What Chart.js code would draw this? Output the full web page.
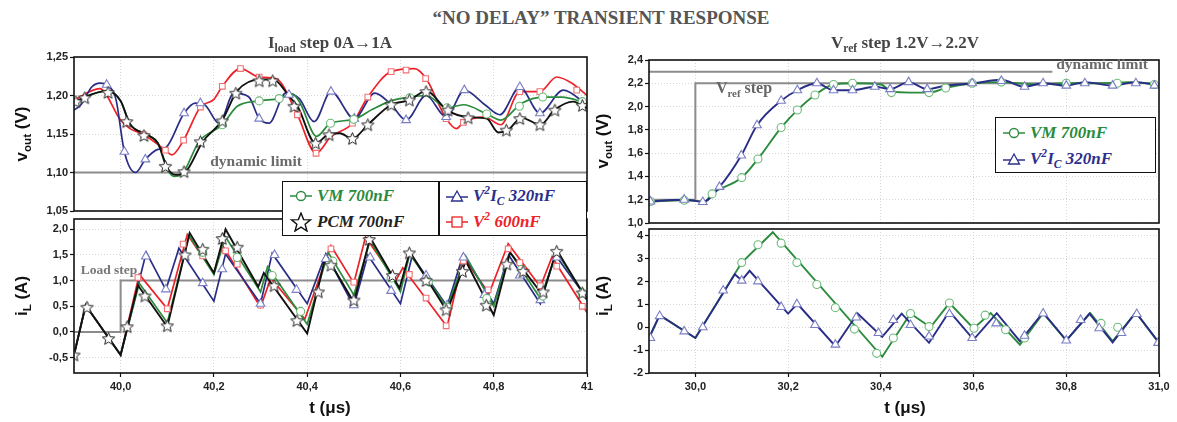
<!DOCTYPE html>
<html>
<head>
<meta charset="utf-8">
<script src="https://cdn.jsdelivr.net/npm/chart.js@4.4.1/dist/chart.umd.min.js"></script>
<style>
  body { margin: 0; background: #fff; }
  #wrap { position: relative; width: 1177px; height: 422px; overflow: hidden; font-family: "Liberation Sans", Arial, sans-serif; }
  canvas { position: absolute; }
  .t { position: absolute; white-space: nowrap; transform: translate(-50%, -50%); z-index: 5; }
  .serif { font-family: "Liberation Serif", "Times New Roman", serif; font-weight: bold; }
  .ax { font-weight: bold; font-size: 17px; color: #111; }
  .rot { transform: translate(-50%, -50%) rotate(-90deg); }
  sub, sup { font-size: 0.68em; line-height: 0; }
  .legend { position: absolute; background: #fff; border: 1.5px solid #111; z-index: 6; box-sizing: border-box; }
  .legend .cell { position: absolute; height: 26px; display: flex; align-items: center; font-family: "Liberation Serif", "Times New Roman", serif; font-weight: bold; font-style: italic; font-size: 17px; white-space: nowrap; }
  .legend svg { margin-right: 4px; flex: none; }
</style>
</head>
<body>
<div id="wrap">
  <canvas id="lt" width="600" height="190" style="left:0px;top:35px"></canvas>
  <canvas id="lb" width="600" height="222" style="left:0px;top:200px"></canvas>
  <canvas id="rt" width="587" height="200" style="left:590px;top:35px"></canvas>
  <canvas id="rb" width="587" height="212" style="left:590px;top:210px"></canvas>

  <div class="t serif" style="left:601px;top:18px;font-size:19px;color:#555">“NO DELAY” TRANSIENT RESPONSE</div>
  <div class="t serif" style="left:330px;top:43px;font-size:17px;color:#444">I<sub>load</sub> step 0A→1A</div>
  <div class="t serif" style="left:905px;top:43px;font-size:17px;color:#444">V<sub>ref</sub> step 1.2V→2.2V</div>

  <div class="t serif" style="left:256px;top:161px;font-size:15.5px;color:#6b6b6b">dynamic limit</div>
  <div class="t serif" style="left:1102px;top:64px;font-size:15.5px;color:#6b6b6b">dynamic limit</div>
  <div class="t serif" style="left:744px;top:88px;font-size:16px;color:#666">V<sub>ref</sub> step</div>
  <div class="t serif" style="left:109px;top:270px;font-size:13.5px;color:#777">Load step</div>

  <div class="t ax rot" style="left:22px;top:134px">v<sub>out</sub> (V)</div>
  <div class="t ax rot" style="left:22px;top:296px">i<sub>L</sub> (A)</div>
  <div class="t ax rot" style="left:603px;top:141px">v<sub>out</sub> (V)</div>
  <div class="t ax rot" style="left:603px;top:296px">i<sub>L</sub> (A)</div>
  <div class="t ax" style="left:330px;top:408px">t (μs)</div>
  <div class="t ax" style="left:905px;top:408px">t (μs)</div>

  <div class="legend" style="left:282px;top:181px;width:305px;height:55px">
    <div style="position:absolute;left:155px;top:0;width:1.5px;height:100%;background:#111"></div>
    <div class="cell" style="left:6px;top:1px;color:#2b8b3c">
      <svg width="24" height="14"><line x1="1" y1="7" x2="23" y2="7" stroke="#2b8b3c" stroke-width="1.5"/><circle cx="12" cy="7" r="4.5" fill="#fff" stroke="#2b8b3c" stroke-width="1.3"/></svg><span>VM 700nF</span></div>
    <div class="cell" style="left:162px;top:1px;color:#2c2f8c">
      <svg width="24" height="14"><line x1="1" y1="8" x2="23" y2="8" stroke="#2c2f8c" stroke-width="1.5"/><polygon points="12,2 17.5,12 6.5,12" fill="#fff" stroke="#2c2f8c" stroke-width="1.3"/></svg><span>V<sup>2</sup>I<sub>C</sub> 320nF</span></div>
    <div class="cell" style="left:6px;top:27px;color:#222">
      <svg width="24" height="20"><polygon points="12,1 14.6,7.6 21.5,7.9 16.1,12.2 18,19 12,15.1 6,19 7.9,12.2 2.5,7.9 9.4,7.6" fill="#fff" stroke="#111" stroke-width="1.4"/></svg><span>PCM 700nF</span></div>
    <div class="cell" style="left:162px;top:27px;color:#ec2228">
      <svg width="24" height="14"><line x1="1" y1="7" x2="23" y2="7" stroke="#ec2228" stroke-width="1.5"/><rect x="7" y="2" width="10" height="10" fill="#fff" stroke="#ec2228" stroke-width="1.3"/></svg><span>V<sup>2</sup> 600nF</span></div>
  </div>

  <div class="legend" style="left:995px;top:117px;width:161px;height:56px">
    <div class="cell" style="left:6px;top:2px;color:#2b8b3c">
      <svg width="24" height="14"><line x1="1" y1="7" x2="23" y2="7" stroke="#2b8b3c" stroke-width="1.5"/><circle cx="12" cy="7" r="4.5" fill="#fff" stroke="#2b8b3c" stroke-width="1.3"/></svg><span>VM 700nF</span></div>
    <div class="cell" style="left:6px;top:28px;color:#2c2f8c">
      <svg width="24" height="14"><line x1="1" y1="8" x2="23" y2="8" stroke="#2c2f8c" stroke-width="1.5"/><polygon points="12,2 17.5,12 6.5,12" fill="#fff" stroke="#2c2f8c" stroke-width="1.3"/></svg><span>V<sup>2</sup>I<sub>C</sub> 320nF</span></div>
  </div>
</div>

<script>
// ---- left: Iload step 0A -> 1A, output voltage (t in us, v in V)
const pcmVout = [[39.90,1.190],[39.92,1.197],[39.97,1.206],[40.00,1.193],[40.02,1.163],[40.057,1.149],[40.08,1.138],[40.10,1.106],[40.118,1.097],[40.138,1.100],[40.176,1.140],[40.218,1.168],[40.25,1.206],[40.30,1.221],[40.33,1.220],[40.36,1.200],[40.38,1.185],[40.418,1.138],[40.447,1.150],[40.47,1.151],[40.497,1.144],[40.53,1.162],[40.58,1.188],[40.62,1.194],[40.655,1.206],[40.70,1.181],[40.745,1.172],[40.785,1.170],[40.81,1.152],[40.83,1.155],[40.86,1.171],[40.90,1.162],[40.93,1.181],[40.97,1.192],[41.00,1.184]];
const pcmVoutMarks = [[39.904,1.192],[39.923,1.197],[39.973,1.204],[40.013,1.166],[40.05,1.148],[40.096,1.108],[40.136,1.101],[40.171,1.140],[40.218,1.167],[40.247,1.203],[40.297,1.219],[40.326,1.219],[40.372,1.186],[40.418,1.138],[40.447,1.149],[40.497,1.144],[40.530,1.162],[40.58,1.188],[40.619,1.194],[40.655,1.205],[40.702,1.181],[40.745,1.171],[40.827,1.155],[40.856,1.170],[40.899,1.162],[40.931,1.181],[40.99,1.187]];

const vmVout = [[39.90,1.190],[39.92,1.197],[39.97,1.206],[40.00,1.193],[40.02,1.163],[40.057,1.149],[40.08,1.138],[40.10,1.104],[40.115,1.095],[40.13,1.097],[40.168,1.140],[40.218,1.162],[40.25,1.186],[40.297,1.193],[40.34,1.196],[40.368,1.202],[40.385,1.190],[40.42,1.147],[40.45,1.164],[40.50,1.169],[40.54,1.182],[40.58,1.193],[40.62,1.198],[40.655,1.200],[40.70,1.184],[40.735,1.188],[40.785,1.176],[40.815,1.168],[40.86,1.190],[40.905,1.198],[40.946,1.198],[41.00,1.190]];
const vmVoutMarks = [[40.218,1.162],[40.297,1.193],[40.34,1.196],[40.45,1.164],[40.50,1.169],[40.62,1.197],[40.70,1.184],[40.785,1.176],[40.855,1.186],[40.905,1.198],[40.99,1.192]];

const v2icVout = [[39.90,1.181],[39.915,1.188],[39.938,1.211],[39.956,1.216],[39.975,1.212],[39.99,1.195],[40.008,1.127],[40.032,1.100],[40.053,1.117],[40.08,1.130],[40.096,1.132],[40.136,1.177],[40.16,1.190],[40.18,1.188],[40.211,1.164],[40.243,1.203],[40.275,1.198],[40.297,1.170],[40.318,1.164],[40.354,1.203],[40.383,1.196],[40.415,1.166],[40.451,1.205],[40.501,1.170],[40.545,1.203],[40.58,1.188],[40.612,1.168],[40.655,1.200],[40.698,1.172],[40.737,1.207],[40.781,1.188],[40.813,1.175],[40.856,1.211],[40.899,1.177],[40.949,1.207],[41.00,1.188]];
const v2icVoutMarks = [[39.97,1.214],[40.008,1.127],[40.053,1.117],[40.136,1.177],[40.171,1.190],[40.297,1.170],[40.361,1.201],[40.451,1.205],[40.501,1.170],[40.612,1.168],[40.698,1.172],[40.737,1.207],[40.856,1.211],[40.899,1.177],[40.99,1.190]];

const v2Vout = [[39.90,1.194],[39.955,1.209],[40.00,1.168],[40.02,1.157],[40.05,1.149],[40.096,1.129],[40.11,1.123],[40.135,1.142],[40.171,1.185],[40.20,1.195],[40.218,1.212],[40.257,1.235],[40.297,1.224],[40.333,1.222],[40.379,1.175],[40.419,1.125],[40.45,1.146],[40.497,1.164],[40.530,1.198],[40.58,1.231],[40.63,1.235],[40.655,1.222],[40.698,1.170],[40.72,1.157],[40.735,1.165],[40.78,1.172],[40.815,1.162],[40.856,1.205],[40.899,1.205],[40.935,1.224],[40.97,1.215],[41.00,1.200]];
const v2VoutMarks = [[40.05,1.149],[40.096,1.129],[40.135,1.142],[40.171,1.185],[40.218,1.212],[40.257,1.235],[40.297,1.224],[40.379,1.175],[40.419,1.125],[40.497,1.164],[40.530,1.198],[40.58,1.231],[40.612,1.233],[40.654,1.222],[40.698,1.170],[40.735,1.165],[40.856,1.205],[40.899,1.205],[40.978,1.207]];

// ---- left: inductor current (A)
const pcmIL = [[39.90,-0.45],[39.925,0.52],[40.00,-0.45],[40.037,0.91],[40.100,0.10],[40.148,1.93],[40.200,1.15],[40.225,2.00],[40.295,0.88],[40.307,1.15],[40.400,-0.03],[40.44,1.50],[40.50,0.58],[40.535,1.84],[40.598,0.85],[40.62,1.56],[40.70,0.40],[40.74,1.38],[40.80,0.33],[40.835,1.55],[40.905,0.72],[40.935,1.60],[41.00,0.62]];
const pcmILMarks = [[39.90,-0.45],[39.928,0.48],[39.974,-0.13],[40.014,0.10],[40.052,0.70],[40.10,0.12],[40.138,1.50],[40.176,1.61],[40.218,1.82],[40.25,1.65],[40.329,0.90],[40.378,0.22],[40.424,0.78],[40.451,1.30],[40.50,0.62],[40.533,1.80],[40.583,1.10],[40.619,1.54],[40.655,1.00],[40.698,0.43],[40.733,1.18],[40.784,0.52],[40.828,1.32],[40.863,1.18],[40.906,0.78],[40.935,1.57],[40.99,0.76]];

const vmIL = [[39.90,-0.45],[39.925,0.52],[40.00,-0.45],[40.04,0.95],[40.10,0.18],[40.147,1.88],[40.20,1.12],[40.225,1.85],[40.30,0.78],[40.315,1.27],[40.40,0.15],[40.445,1.55],[40.50,0.72],[40.535,1.78],[40.60,0.78],[40.62,1.52],[40.70,0.47],[40.74,1.48],[40.80,0.50],[40.835,1.55],[40.90,0.65],[40.935,1.55],[41.00,0.65]];
const vmILMarks = [[40.176,1.55],[40.25,1.45],[40.325,1.10],[40.386,0.40],[40.455,1.38],[40.58,1.05],[40.66,0.98],[40.70,0.48],[40.785,0.65],[40.86,1.22],[40.905,0.70],[40.99,0.76]];

const v2icIL = [[39.90,-0.45],[39.925,0.52],[40.00,-0.45],[40.055,1.55],[40.097,0.82],[40.125,1.63],[40.20,0.60],[40.225,1.52],[40.30,0.55],[40.325,1.53],[40.40,0.55],[40.44,1.52],[40.50,0.50],[40.53,1.50],[40.60,0.55],[40.625,1.48],[40.70,0.50],[40.735,1.52],[40.80,0.55],[40.832,1.50],[40.90,0.55],[40.932,1.50],[41.00,0.65]];
const v2icILMarks = [[40.054,1.47],[40.097,0.83],[40.176,0.95],[40.218,1.22],[40.30,0.55],[40.33,1.50],[40.377,0.82],[40.44,1.42],[40.50,0.52],[40.535,1.45],[40.58,0.80],[40.655,1.10],[40.70,0.52],[40.735,1.45],[40.78,0.72],[40.856,1.10],[40.90,0.62],[40.935,1.45]];

const v2IL = [[39.90,-0.45],[39.925,0.52],[40.00,-0.45],[40.04,1.12],[40.10,0.45],[40.143,1.90],[40.20,1.14],[40.218,1.69],[40.30,0.48],[40.322,1.05],[40.395,0.25],[40.451,1.68],[40.50,0.95],[40.525,1.85],[40.59,1.00],[40.605,1.25],[40.70,0.10],[40.735,1.45],[40.79,0.75],[40.831,1.72],[40.90,0.88],[40.925,1.46],[41.00,0.38]];
const v2ILMarks = [[40.037,1.06],[40.10,0.45],[40.134,1.71],[40.176,1.48],[40.225,1.58],[40.25,1.32],[40.30,0.52],[40.451,1.62],[40.50,0.97],[40.619,1.12],[40.655,0.66],[40.698,0.12],[40.735,1.38],[40.788,0.82],[40.831,1.62],[40.856,1.35],[40.90,0.90],[40.935,1.28],[40.99,0.50]];

const dynLimitL = [[39.90,1.10],[41.00,1.10]];
const loadStep = [[39.90,0],[40.00,0],[40.00,1],[41.00,1]];

// ---- right: Vref step 1.2V -> 2.2V
const vmVref = [[29.90,1.185],[29.976,1.195],[30.00,1.19],[30.02,1.185],[30.036,1.25],[30.10,1.39],[30.135,1.55],[30.185,1.82],[30.22,1.97],[30.258,2.10],[30.298,2.19],[30.34,2.20],[30.40,2.19],[30.423,2.13],[30.464,2.12],[30.504,2.12],[30.54,2.16],[30.60,2.20],[30.66,2.21],[30.73,2.19],[30.80,2.20],[30.87,2.20],[30.935,2.21],[31.00,2.19]];
const vmVrefMarks = [[29.903,1.185],[29.976,1.195],[30.036,1.25],[30.10,1.39],[30.135,1.55],[30.185,1.82],[30.22,1.97],[30.258,2.10],[30.298,2.19],[30.339,2.20],[30.423,2.12],[30.504,2.12],[30.54,2.16],[30.597,2.20],[30.66,2.21],[30.80,2.20],[30.91,2.20],[30.99,2.19]];

const v2icVref = [[29.90,1.185],[29.976,1.20],[30.00,1.19],[30.016,1.18],[30.052,1.31],[30.099,1.58],[30.133,1.84],[30.185,2.05],[30.22,2.14],[30.262,2.20],[30.298,2.14],[30.339,2.14],[30.387,2.17],[30.42,2.15],[30.46,2.21],[30.50,2.15],[30.54,2.18],[30.60,2.20],[30.66,2.23],[30.71,2.17],[30.75,2.20],[30.80,2.18],[30.84,2.21],[30.90,2.18],[30.95,2.21],[31.00,2.18]];
const v2icVrefMarks = [[29.903,1.185],[29.976,1.20],[30.016,1.18],[30.052,1.31],[30.099,1.58],[30.133,1.84],[30.185,2.05],[30.22,2.14],[30.262,2.20],[30.298,2.14],[30.339,2.14],[30.387,2.17],[30.42,2.15],[30.46,2.21],[30.50,2.15],[30.597,2.20],[30.66,2.22],[30.71,2.17],[30.75,2.20],[30.80,2.18],[30.84,2.20],[30.90,2.18],[30.95,2.20],[30.99,2.18]];

const vmILref = [[29.90,-0.47],[29.923,0.53],[30.00,-0.47],[30.10,2.83],[30.167,4.16],[30.403,-1.29],[30.464,0.60],[30.507,0.0],[30.548,1.06],[30.60,-0.05],[30.637,0.62],[30.70,-0.76],[30.75,0.62],[30.80,-0.58],[30.852,0.62],[30.90,-0.60],[30.95,0.65],[31.00,-0.68]];
const vmILrefMarks = [[30.10,2.83],[30.135,3.61],[30.185,3.68],[30.219,2.83],[30.262,1.87],[30.302,0.86],[30.343,-0.08],[30.391,-1.14],[30.427,-0.47],[30.464,0.60],[30.504,0.03],[30.548,1.06],[30.601,-0.04],[30.625,0.53],[30.669,-0.11],[30.71,-0.47],[30.875,0.17],[30.911,0.0]];

const v2icILref = [[29.90,-0.47],[29.923,0.53],[30.00,-0.47],[30.085,2.32],[30.10,2.05],[30.117,2.47],[30.20,0.60],[30.22,1.03],[30.302,-0.83],[30.35,0.60],[30.403,-0.42],[30.445,0.60],[30.504,-0.68],[30.548,0.70],[30.60,-0.54],[30.65,0.62],[30.70,-0.61],[30.75,0.65],[30.80,-0.57],[30.85,0.60],[30.90,-0.66],[30.95,0.65],[31.00,-0.68]];
const v2icILrefMarks = [[29.903,-0.47],[29.923,0.49],[29.976,-0.18],[30.016,0.0],[30.06,1.61],[30.10,2.04],[30.135,2.01],[30.185,0.89],[30.219,1.01],[30.258,0.10],[30.302,-0.76],[30.347,0.43],[30.395,-0.25],[30.427,0.32],[30.464,0.10],[30.504,-0.40],[30.548,0.58],[30.597,-0.47],[30.649,0.17],[30.71,-0.37],[30.75,0.60],[30.80,-0.58],[30.831,0.32],[30.871,-0.04],[30.919,-0.25],[30.952,0.58],[30.998,-0.68]];

const dynLimitR = [[29.90,2.30],[30.77,2.30]];
const vrefStep = [[29.90,1.2],[30.00,1.2],[30.00,2.2],[31.00,2.2]];

// ---- axis ticks and labels
const xTicksL = [40.0, 40.2, 40.4, 40.6, 40.8, 41.0];
const xLabelsL = ['40,0', '40,2', '40,4', '40,6', '40,8', '41'];
const xTicksR = [30.0, 30.2, 30.4, 30.6, 30.8, 31.0];
const xLabelsR = ['30,0', '30,2', '30,4', '30,6', '30,8', '31,0'];
const yTicksVL = [1.05, 1.10, 1.15, 1.20, 1.25];
const yLabelsVL = ['1,05', '1,10', '1,15', '1,20', '1,25'];
const yTicksIL = [-0.5, 0, 0.5, 1.0, 1.5, 2.0];
const yLabelsIL = ['-0,5', '0,0', '0,5', '1,0', '1,5', '2,0'];
const yTicksVR = [1.0, 1.2, 1.4, 1.6, 1.8, 2.0, 2.2, 2.4];
const yLabelsVR = ['1,0', '1,2', '1,4', '1,6', '1,8', '2,0', '2,2', '2,4'];
const yTicksIR = [-2, -1, 0, 1, 2, 3, 4];
const yLabelsIR = ['-2', '-1', '0', '1', '2', '3', '4'];

const GREEN = '#2b8b3c', BLUE = '#2a2d86', RED = '#ec2228', BLACK = '#111', GRAY = '#8c8c8c';

const pts = a => a.map(p => ({ x: p[0], y: p[1] }));

function starImage(size) {
  const c = document.createElement('canvas');
  c.width = c.height = size;
  const g = c.getContext('2d');
  const cx = size / 2, cy = size / 2 + 0.5, R = size / 2 - 1, r = R * 0.45;
  g.beginPath();
  for (let k = 0; k < 10; k++) {
    const a = -Math.PI / 2 + k * Math.PI / 5;
    const rr = k % 2 ? r : R;
    g.lineTo(cx + rr * Math.cos(a), cy + rr * Math.sin(a));
  }
  g.closePath();
  g.fillStyle = '#fff';
  g.fill();
  g.strokeStyle = '#222';
  g.lineWidth = 1;
  g.stroke();
  return c;
}
const STAR = starImage(15);

function line(data, color, smooth, order, width) {
  return {
    data: pts(data), showLine: true, borderColor: color, borderWidth: width || 1.7,
    pointRadius: 0, fill: false, order: order,
    cubicInterpolationMode: smooth ? 'monotone' : 'default', tension: 0
  };
}
function marks(data, style, color, r, order) {
  return {
    data: pts(data), showLine: false, pointStyle: style, pointRadius: r,
    pointBorderColor: color, pointBackgroundColor: '#fff', pointBorderWidth: 1.1, order: order
  };
}

const frame = {
  id: 'frame',
  afterDatasetsDraw(chart) {
    const a = chart.chartArea, g = chart.ctx;
    g.save();
    g.strokeStyle = '#111';
    g.lineWidth = 1.6;
    g.strokeRect(a.left, a.top, a.right - a.left, a.bottom - a.top);
    g.restore();
  }
};

const tickFont = { family: '"Liberation Sans", Arial, sans-serif', weight: 'bold', size: 11 };

function makeChart(id, datasets, o) {
  return new Chart(document.getElementById(id), {
    type: 'scatter',
    data: { datasets: datasets },
    options: {
      responsive: false,
      animation: false,
      layout: { padding: o.pad },
      plugins: { legend: { display: false }, tooltip: { enabled: false } },
      scales: {
        x: {
          type: 'linear', min: o.xmin, max: o.xmax,
          afterBuildTicks: s => { s.ticks = o.xticks.map(v => ({ value: v })); },
          afterFit: s => { s.height = o.xh; },
          grid: { color: '#d6d6d6', drawTicks: o.xlab, tickLength: 4, tickColor: '#111', tickWidth: 1.2 },
          border: { display: false, dash: [1, 2] },
          ticks: { display: o.xlab, autoSkip: false, maxRotation: 0, padding: 3, color: '#222', font: tickFont,
                   callback: (v, i) => o.xlabels[i] }
        },
        y: {
          type: 'linear', min: o.ymin, max: o.ymax,
          afterBuildTicks: s => { s.ticks = o.yticks.map(v => ({ value: v })); },
          afterFit: s => { s.width = o.yw; },
          grid: { color: '#d6d6d6', tickLength: 4, tickColor: '#111', tickWidth: 1.2 },
          border: { display: false, dash: [1, 2] },
          ticks: { padding: 2, color: '#222', font: tickFont, callback: (v, i) => o.ylabels[i] }
        }
      }
    },
    plugins: [frame]
  });
}

makeChart('lt', [
  line(dynLimitL, GRAY, false, 20, 2),
  line(v2Vout, RED, true, 12),
  line(v2icVout, BLUE, true, 11),
  line(vmVout, GREEN, true, 10),
  line(pcmVout, BLACK, true, 9, 1.9),
  marks(v2VoutMarks, 'rect', '#f07074', 4, 4),
  marks(v2icVoutMarks, 'triangle', '#7a7ec4', 5, 3),
  marks(vmVoutMarks, 'circle', '#6cbb78', 4, 2),
  marks(pcmVoutMarks, STAR, BLACK, 7, 1)
], { pad: { left: 0, right: 13, top: 22, bottom: 14 }, xmin: 39.9, xmax: 41.0, xticks: xTicksL, xlabels: xLabelsL,
     xlab: false, xh: 0, ymin: 1.05, ymax: 1.25, yticks: yTicksVL, ylabels: yLabelsVL, yw: 74 });

makeChart('lb', [
  line(loadStep, GRAY, false, 20, 2),
  line(v2IL, RED, false, 12),
  line(v2icIL, BLUE, false, 11),
  line(vmIL, GREEN, false, 10),
  line(pcmIL, BLACK, false, 9, 1.9),
  marks(v2ILMarks, 'rect', '#f07074', 4, 4),
  marks(v2icILMarks, 'triangle', '#7a7ec4', 5, 3),
  marks(vmILMarks, 'circle', '#6cbb78', 4, 2),
  marks(pcmILMarks, STAR, BLACK, 7, 1)
], { pad: { left: 0, right: 13, top: 19, bottom: 0 }, xmin: 39.9, xmax: 41.0, xticks: xTicksL, xlabels: xLabelsL,
     xlab: true, xh: 49, ymin: -0.8, ymax: 2.2, yticks: yTicksIL, ylabels: yLabelsIL, yw: 74 });

makeChart('rt', [
  line(dynLimitR, GRAY, false, 20, 2),
  line(vrefStep, GRAY, false, 19, 2),
  line(vmVref, GREEN, true, 10, 1.9),
  line(v2icVref, BLUE, true, 9, 1.9),
  marks(vmVrefMarks, 'circle', '#6cbb78', 4, 2),
  marks(v2icVrefMarks, 'triangle', '#7a7ec4', 5, 1)
], { pad: { left: 0, right: 18, top: 25, bottom: 12 }, xmin: 29.9, xmax: 31.0, xticks: xTicksR, xlabels: xLabelsR,
     xlab: false, xh: 0, ymin: 1.0, ymax: 2.4, yticks: yTicksVR, ylabels: yLabelsVR, yw: 59 });

makeChart('rb', [
  line(vmILref, GREEN, false, 10, 1.9),
  line(v2icILref, BLUE, false, 9, 1.9),
  marks(vmILrefMarks, 'circle', '#6cbb78', 4, 2),
  marks(v2icILrefMarks, 'triangle', '#7a7ec4', 5, 1)
], { pad: { left: 0, right: 18, top: 19, bottom: 0 }, xmin: 29.9, xmax: 31.0, xticks: xTicksR, xlabels: xLabelsR,
     xlab: true, xh: 49, ymin: -2, ymax: 4.3, yticks: yTicksIR, ylabels: yLabelsIR, yw: 59 });
</script>
</body>
</html>
